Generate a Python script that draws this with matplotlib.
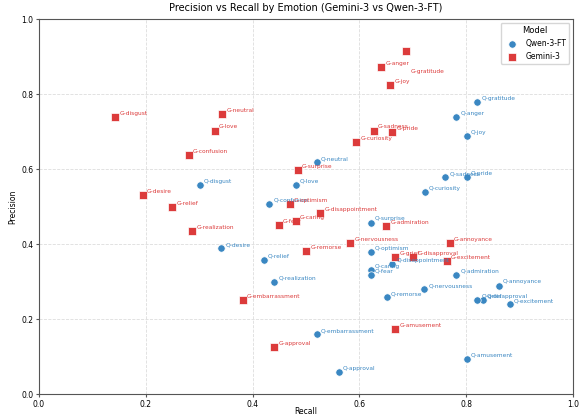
import matplotlib
matplotlib.use("Agg")
import matplotlib.pyplot as plt

# emotion names (same order for both models)
emotions = ["admiration", "amusement", "anger", "annoyance", "approval", "caring",
            "confusion", "curiosity", "desire", "disappointment", "disapproval",
            "disgust", "embarrassment", "excitement", "fear", "gratitude", "grief",
            "joy", "love", "nervousness", "optimism", "pride", "realization",
            "relief", "remorse", "sadness", "surprise", "neutral"]

gem_recall = [0.650, 0.667, 0.641, 0.769, 0.440, 0.481,
              0.280, 0.594, 0.194, 0.527, 0.701,
              0.143, 0.381, 0.763, 0.449, 0.688, 0.667,
              0.658, 0.329, 0.583, 0.469, 0.661, 0.287,
              0.249, 0.500, 0.627, 0.484, 0.343]
gem_precision = [0.449, 0.175, 0.873, 0.403, 0.126, 0.463,
                 0.638, 0.672, 0.531, 0.483, 0.365,
                 0.739, 0.251, 0.356, 0.451, 0.916, 0.365,
                 0.824, 0.703, 0.404, 0.507, 0.699, 0.435,
                 0.500, 0.382, 0.703, 0.597, 0.747]

qwen_recall = [0.781, 0.801, 0.781, 0.861, 0.561, 0.621,
               0.431, 0.722, 0.341, 0.661, 0.831,
               0.301, 0.520, 0.881, 0.621, 0.821, 0.821,
               0.801, 0.481, 0.721, 0.621, 0.801, 0.440,
               0.421, 0.651, 0.761, 0.621, 0.520]
qwen_precision = [0.319, 0.095, 0.738, 0.290, 0.060, 0.331,
                  0.508, 0.538, 0.389, 0.348, 0.251,
                  0.559, 0.160, 0.240, 0.319, 0.778, 0.251,
                  0.689, 0.559, 0.280, 0.379, 0.578, 0.300,
                  0.359, 0.259, 0.578, 0.458, 0.618]

BLUE = "#3a87c2"
RED = "#dc3b3b"

fig, ax = plt.subplots(figsize=(5.83, 4.16), dpi=100)

ax.scatter(qwen_recall, qwen_precision, s=28, c=BLUE, marker="o",
           edgecolors="white", linewidths=0.5, label="Qwen-3-FT", zorder=3)
ax.scatter(gem_recall, gem_precision, s=30, c=RED, marker="s",
           edgecolors="white", linewidths=0.5, label="Gemini-3", zorder=3)

for e, x, y in zip(emotions, qwen_recall, qwen_precision):
    ax.annotate("Q-" + e, (x, y), xytext=(3, 2.6), textcoords="offset points",
                fontsize=4.2, color=BLUE, va="center", ha="left")

for e, x, y in zip(emotions, gem_recall, gem_precision):
    off = (3, -15) if e == "gratitude" else (3, 2.6)
    ax.annotate("G-" + e, (x, y), xytext=off, textcoords="offset points",
                fontsize=4.2, color=RED, va="center", ha="left")

ax.set_xlim(0, 1)
ax.set_ylim(0, 1)
ax.grid(True, linestyle="--", color="#dddddd", linewidth=0.6)
ax.set_axisbelow(True)
for sp in ax.spines.values():
    sp.set_color("#555555")
ax.tick_params(labelsize=5.5, length=2.5, pad=1.5, color="#555555")
ax.set_xlabel("Recall", fontsize=5.5, va="center")
ax.xaxis.set_label_coords(0.5, -0.046)
ax.set_ylabel("Precision", fontsize=5.5, labelpad=3)
ax.set_title("Precision vs Recall by Emotion (Gemini-3 vs Qwen-3-FT)", fontsize=7)
ax.legend(title="Model", fontsize=5.5, title_fontsize=6, loc="upper right")

fig.subplots_adjust(left=0.067, right=0.983, bottom=0.052, top=0.954)
fig.savefig("out.png", dpi=100)
